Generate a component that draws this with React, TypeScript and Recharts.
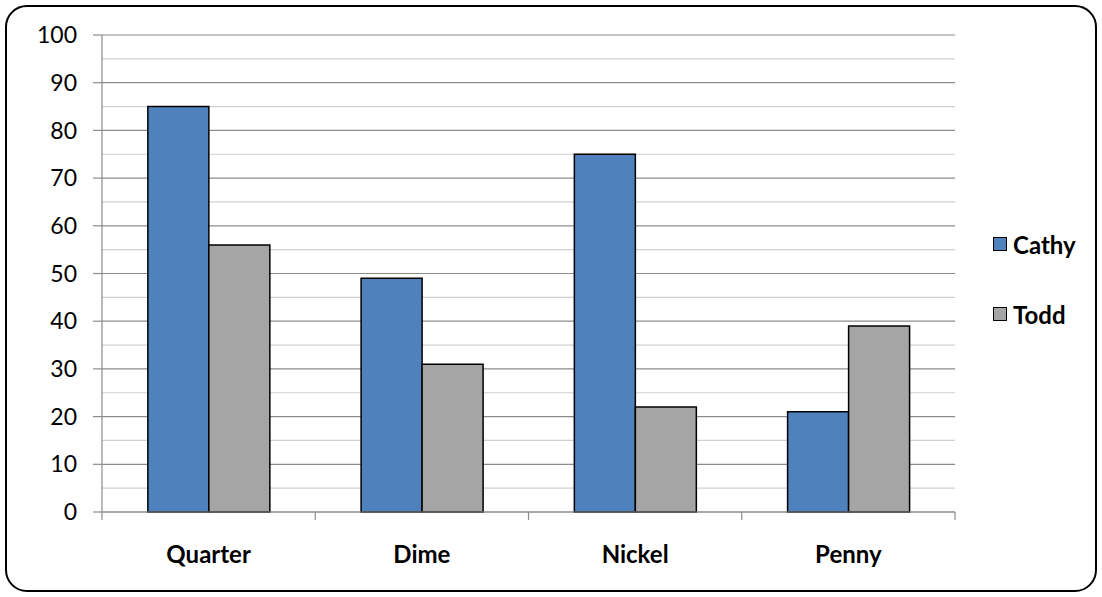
import React from 'react';
import {
  BarChart,
  Bar,
  XAxis,
  YAxis,
  CartesianGrid,
  Legend,
} from 'recharts';

const categories = ['Quarter', 'Dime', 'Nickel', 'Penny'];
const cathy = [85, 49, 75, 21];
const todd = [56, 31, 22, 39];
const majorTicks = [0, 10, 20, 30, 40, 50, 60, 70, 80, 90, 100];
const minorTicks = [5, 15, 25, 35, 45, 55, 65, 75, 85, 95];

const data = categories.map((name, i) => ({ name, Cathy: cathy[i], Todd: todd[i] }));

const FONT = 'Lato, "Open Sans", sans-serif';
const BLUE = '#4F81BD';
const GRAY = '#A5A5A5';
const AXIS = '#8C8C8C';
const LABEL_GAP = 34;

// category label plus the tick marks on the band edges (Excel style)
function CategoryTick(props: any) {
  const { x, y, payload, index } = props;
  const half = payload?.offset ?? 0;
  const axisY = y - LABEL_GAP;
  const last = index === categories.length - 1;
  return (
    <g>
      <line x1={x - half} x2={x - half} y1={axisY} y2={axisY + 8} stroke={AXIS} strokeWidth={1.2} />
      {last && (
        <line x1={x + half} x2={x + half} y1={axisY} y2={axisY + 8} stroke={AXIS} strokeWidth={1.2} />
      )}
      <text
        x={x}
        y={y}
        dy="0.71em"
        textAnchor="middle"
        fontFamily={FONT}
        fontSize={24}
        fontWeight={700}
        fill="#000"
      >
        {payload.value}
      </text>
    </g>
  );
}

function LegendBox() {
  const items = [
    { label: 'Cathy', color: BLUE },
    { label: 'Todd', color: GRAY },
  ];
  return (
    <div style={{ fontFamily: FONT }}>
      {items.map((it, i) => (
        <div
          key={it.label}
          style={{ display: 'flex', alignItems: 'center', height: 26, marginBottom: i === 0 ? 44 : 0 }}
        >
          <span
            style={{
              width: 12,
              height: 12,
              background: it.color,
              border: '1.5px solid #000',
              display: 'inline-block',
              marginRight: 6,
            }}
          />
          <span style={{ fontWeight: 700, fontSize: 24, color: '#000' }}>{it.label}</span>
        </div>
      ))}
    </div>
  );
}

export default function App() {
  return (
    <div style={{ position: 'absolute', left: 0, top: 0, width: 1102, height: 597, background: '#fff' }}>
      <div
        style={{
          position: 'absolute',
          left: 5,
          top: 5,
          width: 1088,
          height: 583,
          border: '2px solid #000',
          borderRadius: 22,
        }}
      />
      <BarChart
        width={1102}
        height={597}
        data={data}
        margin={{ top: 35, right: 147, bottom: 0, left: 42 }}
        barCategoryGap="21.5%"
        barGap={0}
      >
        <CartesianGrid vertical={false} stroke="#D0D0D0" strokeWidth={1.2} horizontalValues={minorTicks} />
        <CartesianGrid vertical={false} stroke={AXIS} strokeWidth={1.2} />
        <XAxis
          dataKey="name"
          axisLine={{ stroke: AXIS, strokeWidth: 1.2 }}
          tickLine={false}
          tickSize={0}
          tickMargin={LABEL_GAP}
          height={85}
          interval={0}
          tick={<CategoryTick />}
        />
        <YAxis
          domain={[0, 100]}
          ticks={majorTicks}
          interval={0}
          width={60}
          tickSize={9}
          tickMargin={16}
          axisLine={{ stroke: AXIS, strokeWidth: 1.2 }}
          tickLine={{ stroke: AXIS, strokeWidth: 1.2 }}
          tick={{ fontFamily: FONT, fontSize: 23, fill: '#000' }}
        />
        <Legend
          layout="vertical"
          align="center"
          verticalAlign="middle"
          content={() => <LegendBox />}
          wrapperStyle={{ left: 993, top: 231, width: 110 }}
        />
        <Bar dataKey="Cathy" fill={BLUE} stroke="#000" strokeWidth={1.5} isAnimationActive={false} />
        <Bar dataKey="Todd" fill={GRAY} stroke="#000" strokeWidth={1.5} isAnimationActive={false} />
      </BarChart>
    </div>
  );
}
